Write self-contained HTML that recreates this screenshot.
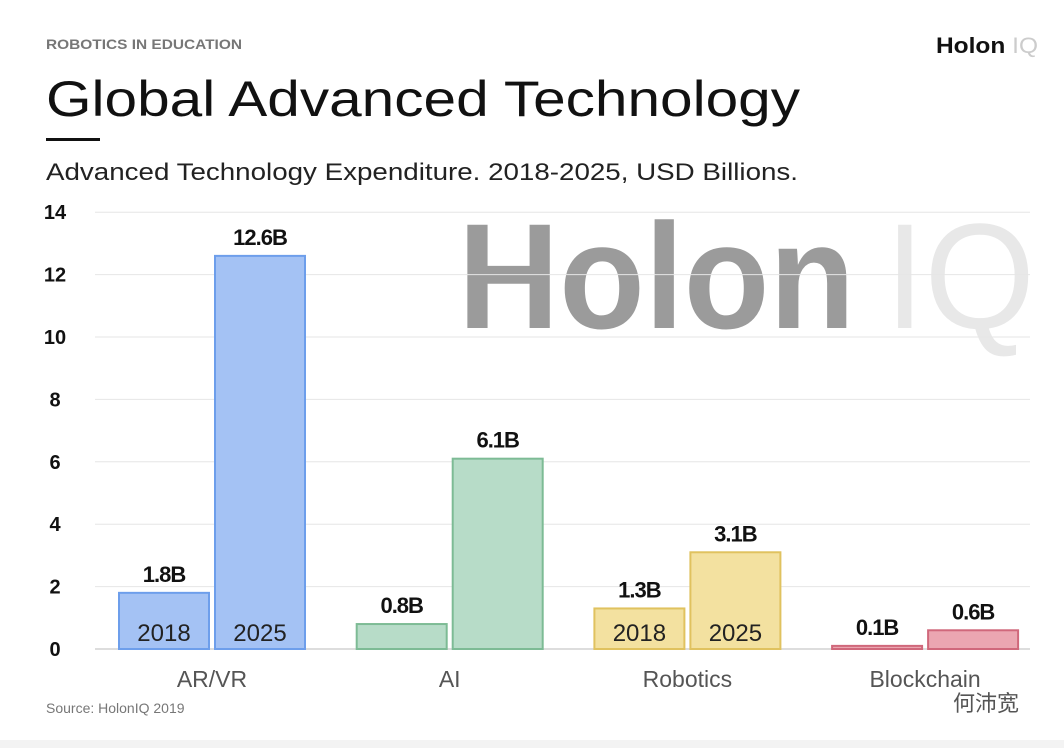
<!DOCTYPE html>
<html><head><meta charset="utf-8"><style>
body{margin:0;width:1064px;height:748px;background:#fff;overflow:hidden;font-family:"Liberation Sans","Noto Sans CJK SC",sans-serif;}
svg{display:block}
</style></head><body>
<svg width="1064" height="748">
<rect x="0" y="740" width="1064" height="8" fill="#f3f3f3"/>
<text x="46" y="49" font-size="14" font-weight="bold" fill="#777" textLength="196" lengthAdjust="spacingAndGlyphs">ROBOTICS IN EDUCATION</text>
<text x="936" y="53" font-size="22" font-weight="bold" fill="#111" textLength="102" lengthAdjust="spacingAndGlyphs">Holon <tspan fill="#ccc" font-weight="normal">IQ</tspan></text>
<text x="46" y="116" font-size="50" fill="#111" textLength="754" lengthAdjust="spacingAndGlyphs">Global Advanced Technology</text>
<rect x="46" y="138" width="54" height="3" fill="#111"/>
<text x="46" y="180" font-size="24" fill="#222" textLength="752" lengthAdjust="spacingAndGlyphs">Advanced Technology Expenditure. 2018-2025, USD Billions.</text>
<text x="458" y="328" font-size="150" font-weight="bold" fill="#9b9b9b" textLength="397" lengthAdjust="spacingAndGlyphs">Holon</text>
<text x="885" y="328" font-size="150" fill="#e8e8e8" textLength="150" lengthAdjust="spacingAndGlyphs">IQ</text>
<g id="grid"></g><g id="bars"></g>
<text x="46" y="713" font-size="14" fill="#777">Source: HolonIQ 2019</text>
<text x="953" y="711" font-size="22" fill="#555">何沛宽</text>
</svg>
<script>
const categories=["AR/VR","AI","Robotics","Blockchain"];
const v2018=[1.8,0.8,1.3,0.1];
const v2025=[12.6,6.1,3.1,0.6];
const labels2018=["1.8B","0.8B","1.3B","0.1B"];
const labels2025=["12.6B","6.1B","3.1B","0.6B"];
const ticks=[0,2,4,6,8,10,12,14];
const fills=["#a4c2f4","#b7dcc8","#f3e1a0","#eba6b1"];
const strokes=["#6d9eeb","#7dbb95","#e0c25f","#d0687b"];
const NS="http://www.w3.org/2000/svg";
const y=v=>649-v*31.2;
const x=i=>119+i*237.7;
function mk(t,a,p){const e=document.createElementNS(NS,t);for(const k in a)e.setAttribute(k,a[k]);p.appendChild(e);return e;}
const g=document.getElementById('grid'),b=document.getElementById('bars');
ticks.forEach(t=>{
 const l=mk('line',{x1:95,x2:1030,y1:y(t),y2:y(t),stroke:t==0?'#ddd':'#e6e6e6','stroke-width':t==0?2:1},g);
 
 
 const tx=mk('text',{x:55,y:y(t)+7,'font-size':20,'font-weight':'bold','text-anchor':'middle',fill:'#111'},g);
 tx.textContent=t;
 
 
});
categories.forEach((c,i)=>{
 [[v2018,labels2018,0,"2018"],[v2025,labels2025,96,"2025"]].forEach(([vals,lab,off,yr])=>{
  const bx=x(i)+off,v=vals[i];
  const r=mk('rect',{x:bx,y:y(v),width:90,height:649-y(v),fill:fills[i],stroke:strokes[i],'stroke-width':2},b);
  
  
  const t=mk('text',{x:bx+45,y:y(v)-11,'font-size':22,'font-weight':'bold','text-anchor':'middle',fill:'#111','letter-spacing':'-1'},b);
  t.textContent=lab[i];
  
  
  if(i==0||i==2){
   const yt=mk('text',{x:bx+45,y:641,'font-size':24,'text-anchor':'middle',fill:'#222'},b);
   yt.textContent=yr;
   
   
  }
 });
 const ct=mk('text',{x:x(i)+93,y:687,'font-size':23,'text-anchor':'middle',fill:'#555'},b);
 ct.textContent=c;
 
 
});
</script>
</body></html>
